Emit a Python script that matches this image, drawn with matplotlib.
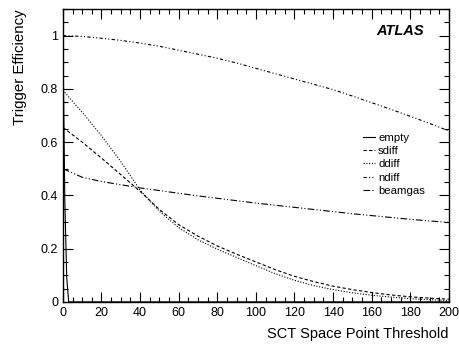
import matplotlib
matplotlib.use("Agg")
import matplotlib.pyplot as plt
from matplotlib.ticker import MultipleLocator

plt.rcParams['font.family'] = ['Liberation Sans', 'DejaVu Sans']

# curve data
thr = [0, 10, 20, 30, 40, 50, 60, 70, 80, 90, 100,
       110, 120, 130, 140, 150, 160, 170, 180, 190, 200]

empty_x = [0, 1, 2, 3, 10, 200]
empty_y = [1.0, 0.38, 0.09, 0.0, 0.0, 0.0]

sdiff = [0.655, 0.60, 0.54, 0.478, 0.415, 0.347, 0.29, 0.247, 0.21, 0.179, 0.15,
         0.121, 0.096, 0.076, 0.059, 0.046, 0.035, 0.026, 0.019, 0.014, 0.01]
ddiff = [0.795, 0.712, 0.624, 0.527, 0.42, 0.34, 0.279, 0.233, 0.198, 0.167, 0.136,
         0.106, 0.081, 0.061, 0.046, 0.034, 0.025, 0.018, 0.012, 0.008, 0.005]
ndiff = [1.0, 0.997, 0.99, 0.982, 0.972, 0.96, 0.945, 0.93, 0.915, 0.897, 0.877,
         0.857, 0.837, 0.817, 0.797, 0.773, 0.748, 0.723, 0.697, 0.67, 0.642]
beamgas = [0.50, 0.468, 0.452, 0.44, 0.428, 0.418, 0.408, 0.398, 0.389, 0.38, 0.371,
           0.363, 0.355, 0.347, 0.339, 0.331, 0.324, 0.317, 0.31, 0.304, 0.298]

labels = ['empty', 'sdiff', 'ddiff', 'ndiff', 'beamgas']

fig = plt.figure(figsize=(4.59, 3.45), dpi=100)
ax = fig.add_axes([0.137, 0.125, 0.841, 0.849])

lw = 0.8
ax.plot(empty_x, empty_y, color='black', lw=lw, label=labels[0])
ax.plot(thr, sdiff, color='black', lw=lw, linestyle=(0, (3, 2)), label=labels[1])
ax.plot(thr, ddiff, color='black', lw=lw, linestyle=(0, (1, 1.5)), label=labels[2])
ax.plot(thr, ndiff, color='black', lw=lw, linestyle=(0, (3, 2, 1, 2, 1, 2)), label=labels[3])
ax.plot(thr, beamgas, color='black', lw=lw, linestyle=(0, (6, 2, 1, 2, 1, 2)), label=labels[4])

ax.set_xlim(0, 200)
ax.set_ylim(0, 1.1)
ax.xaxis.set_major_locator(MultipleLocator(20))
ax.xaxis.set_minor_locator(MultipleLocator(5))
ax.yaxis.set_minor_locator(MultipleLocator(0.05))
ax.set_yticks([0, 0.2, 0.4, 0.6, 0.8, 1.0])
ax.set_yticklabels(['0', '0.2', '0.4', '0.6', '0.8', '1'])
ax.tick_params(which='both', direction='in', top=True, right=True, labelsize=9, width=0.8)
ax.tick_params(which='major', length=7)
ax.tick_params(which='minor', length=3.5)
for s in ax.spines.values():
    s.set_linewidth(1.0)

ax.set_xlabel('SCT Space Point Threshold', fontsize=10.5, loc='right', labelpad=6)
ax.set_ylabel('Trigger Efficiency', fontsize=10.8, loc='top', labelpad=10)

ax.text(0.934, 0.926, 'ATLAS', transform=ax.transAxes, ha='right', va='center',
        fontsize=10.5, fontweight='bold', fontstyle='italic')

ax.legend(loc='upper left', bbox_to_anchor=(0.763, 0.595), frameon=False, fontsize=8.2,
          handlelength=1.05, handletextpad=0.27, labelspacing=0.27, borderpad=0)

fig.savefig('out.png', dpi=100)
